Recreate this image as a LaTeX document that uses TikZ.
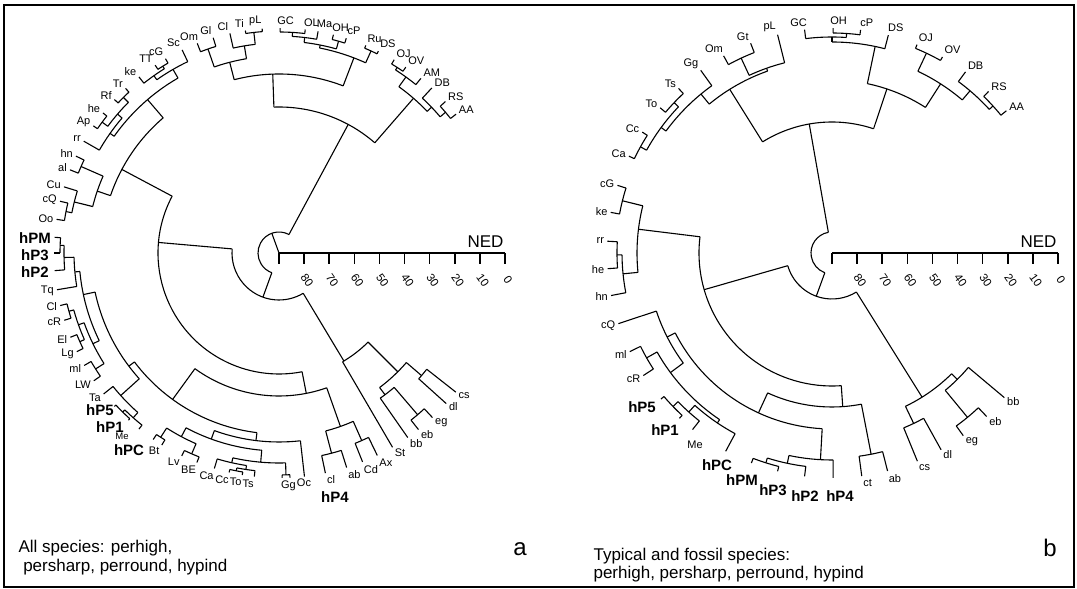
\documentclass[tikz,border=0pt]{standalone}
\usepackage{fontspec}
\setmainfont{Liberation Sans}
\newcommand\ARC[3]{\draw (#2:#1pt) arc[start angle=#2,end angle=#3,radius=#1pt];}
\newcommand\RAD[3]{\draw (#1:#2pt) -- (#1:#3pt);}
\newcommand\ND[5]{\ARC{#1}{#2}{#3}\RAD{#4}{#5}{#1}}
% leaf: name, angle, parent radius, text, style
\newcommand\LF[5]{\RAD{#2}{#3}{225}%
 \pgfmathsetmacro\anc{(#2<=90)*(180+#2/2)+(#2>=270)*(#2/2)+and(#2>90,#2<270)*mod((#2-180)/2+360,360)}%
 \node[lab,#5,anchor=\anc] (#1) at (#2:227pt) {#4};}
% leaf with label placed at an explicit centre
\newcommand\LFP[6]{\RAD{#2}{#3}{225}\node[lab,#5] (#1) at (#6) {#4};}
\newcommand\AXIS[1]{%
 \draw[line width=1.6pt] (0,0) -- (226,0);
 \foreach \vv in {0,...,9} {\pgfmathsetmacro\xx{226-\vv*25.111}\draw[line width=1.6pt] (\xx pt,0) -- (\xx pt,-11pt);}
 \foreach \vv in {0,10,...,80} {\pgfmathsetmacro\xx{2.5111*(90-\vv)+3}\node[tick,rotate=-55] (#1t\vv) at (\xx pt,-27pt) {\vv};}
 \node[ned,anchor=south east] (#1ned) at (225,5) {NED};}
\begin{document}
\begin{tikzpicture}[x=1pt,y=1pt,line width=1.1pt,
  lab/.style={font=\fontsize{11}{12}\selectfont,inner sep=0.8pt},
  hl/.style={font=\fontsize{15}{17}\selectfont\bfseries},
  sm/.style={font=\fontsize{9.5}{11}\selectfont},
  tick/.style={font=\fontsize{11.5}{12}\selectfont,inner sep=0pt},
  ned/.style={font=\fontsize{17}{19}\selectfont,inner sep=0pt},
  captext/.style={font=\fontsize{17}{20}\selectfont,inner sep=0pt,anchor=west},
  pan/.style={font=\fontsize{24}{26}\selectfont,inner sep=0pt}]
\useasboundingbox (0,0) rectangle (1077,589);
\draw[line width=1.4pt] (4,2) rectangle (1074,584);
% ================= panel a =================
\begin{scope}[shift={(279,336)}]
\AXIS{a}
\draw (0,0) -- (110:21pt);
% upper right
\ND{218}{38.1}{42.3}{40.2}{211}
\LF{AA}{38.1}{218}{AA}{}
\LF{RS}{42.3}{218}{RS}{}
\ND{211}{40.2}{47.2}{43.7}{205}
\LF{DB}{47.2}{211}{DB}{}
\ND{220}{55.7}{59.2}{57.5}{217}
\LF{OV}{55.7}{220}{OV}{}
\LF{OJ}{59.2}{220}{OJ}{}
\ND{217}{50.9}{57.5}{54.2}{205}
\LF{AM}{50.9}{217}{AM}{}
\ND{205}{43.7}{54.2}{49}{146}
\ND{222}{63.8}{67.3}{65.5}{209}
\LF{DS}{63.8}{222}{DS}{}
\LF{Ru}{67.3}{222}{Ru}{}
\ND{220}{72.6}{76}{74.3}{212}
\LF{cP}{72.6}{220}{cP}{}
\LF{OH}{76}{220}{OH}{}
\ND{221}{83.3}{89.7}{86.5}{217}
\LF{OL}{83.3}{221}{OL}{}
\LF{GC}{89.7}{221}{GC}{}
\ND{217}{80}{86.5}{83.2}{212}
\LF{Ma}{80}{217}{Ma}{}
\ND{212}{74.3}{83.2}{78.8}{209}
\ND{209}{65.5}{78.8}{69}{179}
\ND{222}{94.3}{98.6}{96.5}{210}
\LF{pL}{94.3}{222}{pL}{}
\LF{Ti}{98.6}{222}{Ti}{}
\ND{210}{96.5}{102.6}{99.5}{197}
\LF{Cl}{102.6}{210}{Cl}{}
\ND{216}{107}{111.3}{109.2}{197}
\LF{Gl}{107}{216}{Gl}{}
\LF{Om}{111.3}{216}{Om}{}
\ND{197}{99.5}{109.2}{104.5}{179}
\ND{179}{69}{104.5}{92}{146}
\ND{146}{49}{92}{61.7}{21}
\ARC{21}{61.7}{250}
% upper left
\ND{220}{120.3}{123.4}{121.9}{217}
\LF{cG}{120.3}{220}{cG}{}
\LF{TT}{123.4}{220}{TT}{}
\ND{217}{121.9}{128.5}{125.2}{212}
\LF{ke}{128.5}{217}{ke}{}
\ND{212}{115.5}{125.2}{120}{202}
\LF{Sc}{115.5}{212}{Sc}{}
\ND{220}{133}{137}{135}{213}
\LF{Tr}{133}{220}{Tr}{}
\LF{Rf}{137}{220}{Rf}{}
\ND{220}{141.5}{145.6}{143.5}{213}
\LF{he}{141.5}{220}{he}{}
\LF{Ap}{145.6}{220}{Ap}{}
\ND{213}{135}{143.5}{139.3}{207}
\ND{207}{139.3}{150.2}{144.7}{202}
\LF{rr}{150.2}{207}{rr}{}
\ND{202}{120}{144.7}{130.6}{178}
\ND{216}{154.5}{158.3}{156.4}{192}
\LF{hn}{154.5}{216}{hn}{}
\LF{al}{158.3}{216}{al}{}
\ND{217}{166.7}{171.4}{169}{211}
\LF{cQ}{166.7}{217}{cQ}{}
\LF{Oo}{171.4}{217}{Oo}{}
\ND{211}{162.9}{169}{166}{192}
\LF{Cu}{162.9}{211}{Cu}{}
\ND{192}{156.4}{166}{161.2}{178}
\ND{178}{130.6}{161.2}{152}{121}
\ND{121}{152}{281}{175}{47}
\ND{47}{175}{301}{250}{21}
% lower left
\ND{219}{176}{180}{178}{215}
\LFP{hPM}{176}{219}{hPM}{hl}{-244,15}
\LFP{hPiii}{180}{219}{hP3}{hl}{-244,-2}
\ND{215}{178}{184.5}{181.2}{205}
\LFP{hPii}{184.5}{215}{hP2}{hl}{-244,-19}
\ND{205}{181.2}{189.4}{185.3}{200}
\LF{Tq}{189.4}{205}{Tq}{}
\ND{218}{193.5}{197.4}{195.5}{213}
\LF{Clb}{193.5}{218}{Cl}{}
\LF{cR}{197.4}{218}{cR}{}
\ND{218}{202}{206}{204}{213}
\LF{El}{202}{218}{El}{}
\LF{Lg}{206}{218}{Lg}{}
\ND{213}{195.5}{204}{199.7}{207}
\ND{217}{210}{214.6}{212.3}{207}
\LF{ml}{210}{217}{ml}{}
\LF{LW}{214.6}{217}{LW}{}
\ND{207}{199.7}{212.3}{206}{200}
\ND{200}{185.3}{206}{192}{188}
\ND{223}{223}{228}{225.5}{220}
\LFP{hPv}{223}{223}{hP5}{hl}{-179,-157}
\LFP{hPi}{228}{223}{hP1}{hl}{-169,-174}
\ND{220}{225.5}{231.5}{228.5}{213}
\LFP{Me}{231.5}{220}{Me}{sm}{-157,-183}
\ND{213}{218.8}{228.5}{222}{188}
\LF{Ta}{218.8}{213}{Ta}{}
\ND{188}{192}{222}{217}{181}
\ND{219}{236}{238.6}{237.3}{208}
\LFP{hPC}{236}{219}{hPC}{hl}{-150,-197}
\LF{Bt}{238.6}{219}{Bt}{}
\ND{219}{244.4}{248.6}{246.5}{208}
\LF{Lv}{244.4}{219}{Lv}{}
\LF{BE}{248.6}{219}{BE}{}
\ND{208}{237.3}{246.5}{242}{198}
\ND{222}{257.2}{260.6}{258.9}{219}
\LF{Cc}{257.2}{222}{Cc}{}
\LF{To}{260.6}{222}{To}{}
\ND{219}{258.9}{263.7}{261.3}{215}
\LF{Ts}{263.7}{219}{Ts}{}
\ND{215}{253.3}{261.3}{257.3}{210}
\LF{Ca}{253.3}{215}{Ca}{}
\ND{222}{270.8}{272.8}{271.8}{210}
\LF{Gg}{270.8}{222}{Gg}{}
\LFP{Oc}{272.8}{222}{Oc}{}{25,-230}
\ND{210}{257.3}{271.8}{265}{198}
\ND{198}{242}{265}{250}{189}
\ND{189}{250}{276.5}{263}{181}
\LFP{hPiv}{276.5}{189}{hP4}{hl}{56,-244}
\ND{181}{217}{263}{234}{143}
\ND{207}{281.9}{287.5}{284.7}{184}
\LF{cl}{281.9}{207}{cl}{}
\LF{ab}{287.5}{207}{ab}{}
\ND{205}{291.8}{295.9}{293.8}{184}
\LF{Cd}{291.8}{205}{Cd}{}
\LF{Ax}{295.9}{205}{Ax}{}
\ND{184}{284.7}{293.8}{289.5}{143}
\ND{143}{234}{289.5}{281}{121}
% lower right
\ND{213}{308.3}{313}{310.6}{177}
\LF{eb}{308.3}{213}{eb}{}
\LF{eg}{313}{213}{eg}{}
\ND{177}{304.9}{310.6}{306.8}{168}
\LF{bb}{304.9}{177}{bb}{}
\ND{188}{318}{321.8}{319.3}{168}
\LF{dl}{318}{188}{dl}{}
\LF{cs}{321.8}{188}{cs}{}
\ND{168}{306.8}{319.3}{315}{126}
\ND{126}{300.3}{315}{301}{47}
\LF{St}{300.3}{126}{St}{}
\end{scope}
% ================= panel b =================
\begin{scope}[shift={(832,336)}]
\AXIS{b}
\ND{215}{111.2}{118.8}{115}{196}
\LF{bGt}{111.2}{215}{Gt}{}
\LF{bOm}{118.8}{215}{Om}{}
\ND{196}{104}{115}{109.5}{193}
\LF{bpL}{104}{196}{pL}{}
\ND{218}{133}{139.8}{136.4}{212}
\LF{bTs}{133}{218}{Ts}{}
\LF{bTo}{139.8}{218}{To}{}
\ND{219}{147.5}{154.5}{151}{212}
\LF{bCc}{147.5}{219}{Cc}{}
\LF{bCa}{154.5}{219}{Ca}{}
\ND{212}{136.4}{151}{143.7}{206}
\ND{206}{125.7}{143.7}{129.5}{193}
\LF{bGg}{125.7}{206}{Gg}{}
\ND{193}{109.5}{129.5}{122}{131}
\ND{220}{82.7}{89.7}{86.2}{216}
\LF{bcP}{82.7}{220}{cP}{}
\LF{bOH}{89.7}{220}{OH}{}
\ND{216}{86.2}{97}{90}{211}
\LF{bGC}{97}{216}{GC}{}
\ND{211}{75.5}{90}{78.2}{173}
\LF{bDS}{75.5}{211}{DS}{}
\ND{221}{60.6}{67.8}{64.7}{201}
\LF{bOV}{60.6}{221}{OV}{}
\LF{bOJ}{67.8}{221}{OJ}{}
\ND{218}{39.2}{45.9}{42.4}{213}
\LF{bAA}{39.2}{218}{AA}{}
\LF{bRS}{45.9}{218}{RS}{}
\ND{213}{42.4}{53.6}{49.6}{201}
\LF{bDB}{53.6}{213}{DB}{}
\ND{201}{49.6}{64.7}{57.3}{173}
\ND{173}{57.3}{78.2}{71.5}{131}
\ND{131}{71.5}{122}{100}{21}
\ARC{21}{100}{250}
\ND{46}{196}{302}{250}{21}
\ND{216}{162.5}{169.6}{166}{195}
\LF{bcG}{162.5}{216}{cG}{}
\LF{bke}{169.6}{216}{ke}{}
\ND{215}{177}{184}{180.5}{210}
\LF{brr}{177}{215}{rr}{}
\LF{bhe}{184}{215}{he}{}
\ND{210}{180.5}{190.9}{185.7}{195}
\LF{bhn}{190.9}{210}{hn}{}
\ND{195}{166}{185.7}{173}{133}
\ND{213}{206}{213}{209.5}{201}
\LF{bml}{206}{213}{ml}{}
\LF{bcR}{213}{213}{cR}{}
\ND{221}{220.5}{227.3}{224}{214}
\LFP{bhPv}{220.5}{221}{hP5}{hl}{-190,-154}
\LFP{bhPi}{227.3}{221}{hP1}{hl}{-167,-177}
\ND{214}{224}{231.7}{228}{205}
\LFP{bMe}{231.7}{214}{Me}{}{-137,-192}
\ND{205}{228}{241.8}{236}{201}
\LFP{bhPC}{241.8}{205}{hPC}{hl}{-115,-212}
\ND{201}{209.5}{236}{216.5}{185}
\ND{185}{198.3}{216.5}{207}{176}
\LF{bcQ}{198.3}{185}{cQ}{}
\ND{220}{249}{256}{252.5}{215}
\LFP{bhPM}{249}{220}{hPM}{hl}{-90,-227}
\LFP{bhPiii}{256}{220}{hP3}{hl}{-59,-237}
\ND{215}{252.5}{263}{258}{207}
\LFP{bhPii}{263}{215}{hP2}{hl}{-27,-243}
\ND{207}{258}{270.3}{266.8}{176}
\LFP{bhPiv}{270.3}{207}{hP4}{hl}{8,-243}
\ND{176}{207}{266.8}{245.3}{154}
\ND{205}{277.6}{284.3}{281}{154}
\LF{bct}{277.6}{205}{ct}{}
\LF{bab}{284.3}{205}{ab}{}
\ND{154}{245.3}{281}{274}{133}
\ND{133}{173}{274}{196}{46}
\ND{189}{292.3}{299}{295.6}{170}
\LF{bcs}{292.3}{189}{cs}{}
\LF{bdl}{299}{189}{dl}{}
\ND{213}{305.7}{313.4}{309.5}{178}
\LF{beg}{305.7}{213}{eg}{}
\LF{beb}{313.4}{213}{eb}{}
\ND{178}{309.5}{320}{314.75}{170}
\LF{bbb}{320}{178}{bb}{}
\ND{170}{295.6}{314.75}{302}{46}
\end{scope}
% captions
\node[captext] (capa1) at (18,41) {All species: perhigh,};
\node[captext] (capa2) at (18,22) {\ persharp, perround, hypind};
\node[pan] (pa) at (520,40) {a};
\node[captext] (capb1) at (593,33) {Typical and fossil species:};
\node[captext] (capb2) at (593,15) {perhigh, persharp, perround, hypind};
\node[pan] (pb) at (1050,41) {b};
\end{tikzpicture}
\end{document}
